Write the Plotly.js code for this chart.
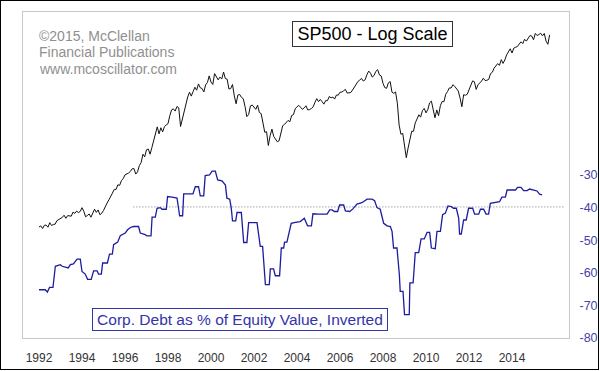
<!DOCTYPE html>
<html>
<head>
<meta charset="utf-8">
<script src="https://cdn.plot.ly/plotly-3.0.1.min.js"></script>
<style>
html,body{margin:0;padding:0;background:#fff;}
#wrap{position:relative;width:600px;height:371px;}
#chart{position:absolute;left:0;top:0;width:600px;height:371px;}
#frame{position:absolute;left:0;top:0;width:599px;height:370px;box-sizing:border-box;border:1px solid #000;pointer-events:none;}
</style>
</head>
<body>
<div id="wrap"><div id="chart"></div><div id="frame"></div></div>
<script>
// S&P 500 monthly closes, Jan 1992 .. Oct 2015
const spxStartYear = 1992;
const spxMonthly = [
 408.8,412.7,403.7,414.9,415.4,408.1,424.2,414.0,417.8,418.7,431.4,435.7,
 438.8,443.4,451.7,440.2,450.2,450.5,448.1,464.0,458.9,467.8,461.8,466.5,
 481.6,467.1,445.8,450.9,456.5,444.3,458.3,475.5,462.7,472.4,453.7,459.3,
 470.4,487.4,500.7,514.7,533.4,544.8,562.1,561.9,584.4,581.5,605.4,615.9,
 636.0,640.4,645.5,654.2,669.1,670.6,639.9,652.0,687.3,705.3,757.0,740.7,
 786.2,790.8,757.1,801.3,848.3,885.1,954.3,899.5,947.3,914.6,955.4,970.4,
 980.3,1049.3,1101.8,1111.8,1090.8,1133.8,1120.7,957.3,1017.0,1098.7,1163.6,1229.2,
 1279.6,1238.3,1286.4,1335.2,1301.8,1372.7,1328.7,1320.4,1282.7,1362.9,1388.9,1469.3,
 1394.5,1366.4,1498.6,1452.4,1420.6,1454.6,1430.8,1517.7,1436.5,1429.4,1315.2,1320.3,
 1366.0,1239.9,1160.3,1249.5,1255.8,1224.4,1211.2,1133.6,1040.9,1059.8,1139.5,1148.1,
 1130.2,1106.7,1147.4,1076.9,1067.1,989.8,911.6,916.1,815.3,885.8,936.3,879.8,
 855.7,841.2,848.2,916.9,963.6,974.5,990.3,1008.0,996.0,1050.7,1058.2,1111.9,
 1131.1,1144.9,1126.2,1107.3,1120.7,1140.8,1101.7,1104.2,1114.6,1130.2,1173.8,1211.9,
 1181.3,1203.6,1180.6,1156.9,1191.5,1191.3,1234.2,1220.3,1228.8,1207.0,1249.5,1248.3,
 1280.1,1280.7,1294.8,1310.6,1270.1,1270.2,1276.7,1303.8,1335.8,1377.9,1400.6,1418.3,
 1438.2,1406.8,1420.9,1482.4,1530.6,1503.4,1455.3,1474.0,1526.8,1549.4,1481.1,1468.4,
 1378.6,1330.6,1322.7,1385.6,1400.4,1280.0,1267.4,1282.8,1166.4,968.8,896.2,903.3,
 825.9,735.1,797.9,872.8,919.1,919.3,987.5,1020.6,1057.1,1036.2,1095.6,1115.1,
 1073.9,1104.5,1169.4,1186.7,1089.4,1030.7,1101.6,1049.3,1141.2,1183.3,1180.6,1257.6,
 1286.1,1327.2,1325.8,1363.6,1345.2,1320.6,1292.3,1218.9,1131.4,1253.3,1247.0,1257.6,
 1312.4,1365.7,1408.5,1397.9,1310.3,1362.2,1379.3,1406.6,1440.7,1412.2,1416.2,1426.2,
 1498.1,1514.7,1569.2,1597.6,1630.7,1606.3,1685.7,1633.0,1681.6,1756.5,1805.8,1848.4,
 1782.6,1859.5,1872.3,1884.0,1923.6,1960.2,1930.7,2003.4,1972.3,2018.1,2067.6,2058.9,
 1995.0,2104.5,2067.9,2085.5,2107.4,2063.1,2103.8,1972.2,1920.0,2079.4
];
const spxX = spxMonthly.map((v,i)=> spxStartYear + i/12);

// Corporate debt as % of equity value, inverted (sign flipped)
const debtX = [
 1992.0,1992.29,1992.39,1992.49,1992.65,1992.76,1992.99,1993.08,1993.36,1993.46,1993.60,1993.77,1993.92,
 1994.0,1994.15,1994.26,1994.43,1994.54,1994.70,1994.77,1994.90,1994.96,1995.18,1995.28,1995.41,1995.47,
 1995.66,1995.78,1996.01,1996.12,1996.25,1996.40,1996.63,1996.71,1996.94,1997.02,1997.21,1997.26,1997.41,
 1997.49,1997.64,1997.72,1997.92,1997.98,1998.19,1998.42,1998.49,1998.54,1998.68,1998.73,1999.16,1999.27,
 1999.42,1999.50,1999.66,1999.73,1999.93,2000.05,2000.20,2000.31,2000.51,2000.67,2000.74,2000.87,2000.94,
 2001.0,2001.15,2001.21,2001.41,2001.47,2001.52,2001.67,2001.75,2002.14,2002.21,2002.29,2002.40,2002.45,
 2002.53,2002.71,2002.76,2002.91,2002.99,2003.19,2003.27,2003.38,2003.42,2003.53,2003.73,2003.92,2004.15,
 2004.34,2004.49,2004.67,2004.74,2005.0,2005.40,2005.52,2005.63,2005.74,2005.89,2005.98,2006.17,2006.25,
 2006.45,2006.60,2006.71,2006.79,2007.02,2007.26,2007.49,2007.61,2007.72,2007.87,2008.03,2008.19,2008.34,
 2008.42,2008.49,2008.65,2008.76,2008.80,2008.93,2009.0,2009.22,2009.25,2009.40,2009.50,2009.66,2009.77,
 2009.92,2010.05,2010.17,2010.25,2010.43,2010.51,2010.67,2010.77,2010.90,2011.02,2011.18,2011.28,2011.41,
 2011.52,2011.56,2011.64,2011.75,2011.87,2011.98,2012.17,2012.26,2012.45,2012.53,2012.68,2012.79,2012.91,
 2012.99,2013.30,2013.42,2013.53,2013.69,2013.77,2014.16,2014.26,2014.42,2014.54,2014.70,2014.82,2015.0,
 2015.16,2015.28,2015.40
];
const debtY = [
 -65.2,-65.2,-65.9,-64.5,-64.5,-58.0,-57.5,-58.0,-58.5,-57.5,-57.3,-55.8,-55.8,
 -59.6,-60.4,-62.0,-62.0,-59.4,-59.4,-60.4,-60.4,-57.0,-57.0,-54.3,-54.3,-51.4,
 -50.6,-48.6,-47.8,-46.8,-46.1,-45.8,-45.8,-47.8,-48.3,-48.7,-48.7,-42.9,-42.9,
 -40.2,-40.0,-40.5,-40.5,-36.6,-36.8,-37.1,-40.2,-42.5,-42.5,-35.8,-35.8,-33.6,
 -33.6,-36.4,-36.4,-30.2,-30.0,-28.8,-28.8,-31.5,-31.8,-33.1,-37.1,-37.4,-40.0,
 -44.1,-44.1,-41.5,-41.5,-46.3,-50.7,-50.7,-44.6,-44.6,-48.3,-51.9,-51.9,-58.0,
 -63.6,-63.6,-58.8,-58.8,-60.9,-60.9,-52.4,-52.4,-50.6,-50.6,-44.8,-44.5,-44.3,
 -43.3,-45.6,-45.6,-41.9,-42.0,-42.0,-40.7,-40.7,-41.2,-41.2,-39.2,-39.2,-41.0,
 -41.2,-40.4,-39.7,-38.9,-38.5,-37.4,-37.4,-37.9,-40.0,-40.5,-44.8,-45.6,-45.8,
 -47.3,-52.4,-52.4,-60.6,-65.7,-65.7,-72.8,-72.8,-63.1,-63.1,-53.8,-53.8,-49.6,
 -49.6,-47.6,-47.6,-52.4,-52.6,-47.3,-47.3,-42.2,-41.7,-39.5,-39.7,-40.2,-40.2,
 -43.3,-48.1,-48.1,-43.8,-43.8,-40.2,-40.2,-42.0,-42.0,-40.5,-40.5,-42.0,-42.0,
 -38.7,-38.5,-38.2,-36.8,-36.8,-34.6,-34.6,-33.8,-33.8,-34.8,-34.8,-34.3,-34.6,
 -34.9,-35.9,-36.1
];

// Reference level (dotted)
const refX = [1996.39, 2016.40];
const refY = [-39.8, -39.8];

const yearTicks = [1992,1994,1996,1998,2000,2002,2004,2006,2008,2010,2012,2014];
const yearLabels = yearTicks.map(String);
const debtTicks = [-30,-40,-50,-60,-70,-80];
const debtLabels = ["-30","-40","-50","-60","-70","-80"];

const FONT = "Liberation Sans, Arial, sans-serif";

const traces = [
 {x: refX, y: refY, mode:'lines', line:{color:'#7a7a7a', width:1, dash:'1px,2px'}, yaxis:'y', hoverinfo:'skip'},
 {x: spxX, y: spxMonthly, mode:'lines', line:{color:'#111111', width:1}, yaxis:'y2'},
 {x: debtX, y: debtY, mode:'lines', line:{color:'#1c1ca0', width:1.3}, yaxis:'y'}
];

const W=546, H=326, L=23, T=12;
function px(x){return (x-L)/W;}
function py(y){return (T+H-y)/H;}

const layout = {
 width:600, height:371,
 margin:{l:23, r:31, t:12, b:33, pad:0},
 paper_bgcolor:'#ffffff', plot_bgcolor:'#ffffff',
 showlegend:false,
 font:{family:FONT},
 xaxis:{range:[1991.256, 2016.65], tickvals:yearTicks, ticktext:yearLabels, ticks:'',
   showgrid:false, zeroline:false, showline:true, mirror:true, linecolor:'#c8c8c8', linewidth:1,
   tickfont:{size:12, color:'#333333', family:FONT}, ticklabelstandoff:9},
 yaxis:{range:[-80,20], side:'right', tickvals:debtTicks, ticktext:debtLabels, ticks:'',
   showgrid:false, zeroline:false, showline:true, mirror:true, linecolor:'#c8c8c8', linewidth:1,
   tickfont:{size:12.5, color:'#4444aa', family:FONT}, ticklabelstandoff:7},
 yaxis2:{type:'log', range:[2.2035, 3.402], overlaying:'y', visible:false, showgrid:false, zeroline:false},
 annotations:[
  {xref:'paper', yref:'paper', x:px(37), y:py(36), xanchor:'left', yanchor:'middle', showarrow:false,
   text:'©2015, McClellan', font:{size:14, color:'#909090', family:FONT}},
  {xref:'paper', yref:'paper', x:px(37), y:py(52.5), xanchor:'left', yanchor:'middle', showarrow:false,
   text:'Financial Publications', font:{size:14, color:'#909090', family:FONT}},
  {xref:'paper', yref:'paper', x:px(37), y:py(69), xanchor:'left', yanchor:'middle', showarrow:false,
   text:'www.mcoscillator.com', font:{size:14, color:'#909090', family:FONT}},
  {xref:'paper', yref:'paper', x:px(372.3), y:py(33.7), xanchor:'center', yanchor:'middle', showarrow:false,
   text:'SP500 - Log Scale', font:{size:18, color:'#000000', family:FONT},
   bordercolor:'#333333', borderwidth:1, borderpad:2, bgcolor:'#ffffff', width:155, height:20},
  {xref:'paper', yref:'paper', x:px(240.3), y:py(319.2), xanchor:'center', yanchor:'middle', showarrow:false,
   text:'Corp. Debt as % of Equity Value, Inverted', font:{size:15.5, color:'#3333aa', family:FONT},
   bordercolor:'#3333aa', borderwidth:1, borderpad:1, bgcolor:'#ffffff', width:292, height:19}
 ]
};

Plotly.newPlot('chart', traces, layout, {displayModeBar:false, staticPlot:true});
</script>
</body>
</html>
